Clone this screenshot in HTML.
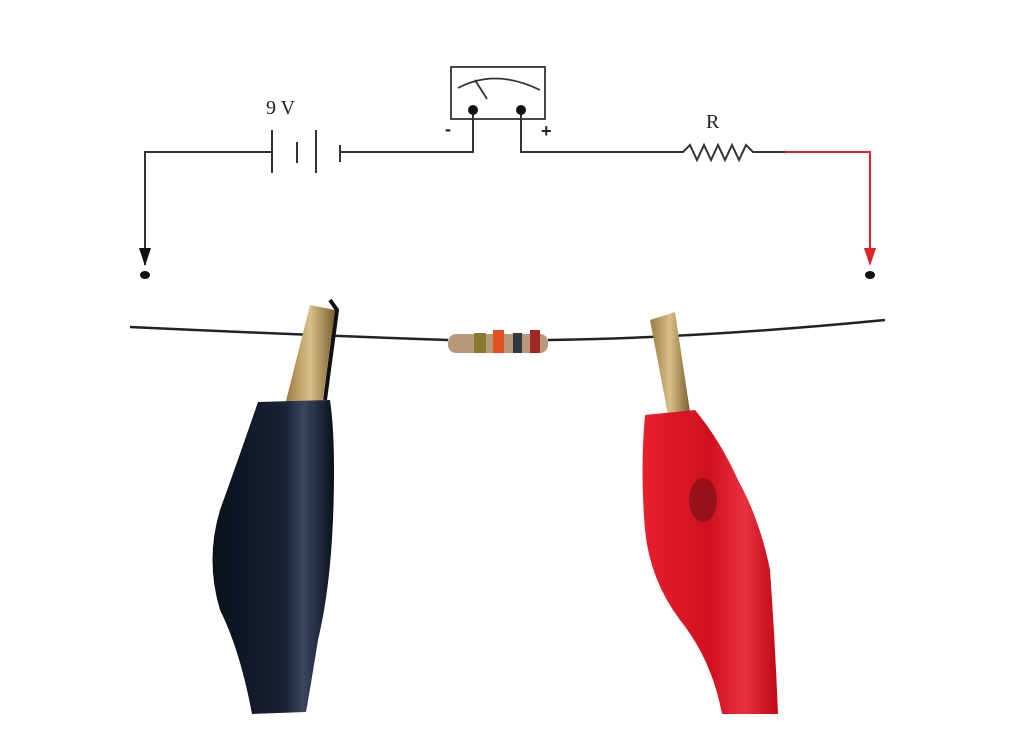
<!DOCTYPE html>
<html><head><meta charset="utf-8"><style>
html,body{margin:0;padding:0;background:#fff;width:1024px;height:748px;overflow:hidden}
</style></head><body>
<svg width="1024" height="748" viewBox="0 0 1024 748" xmlns="http://www.w3.org/2000/svg">
<defs>
<linearGradient id="gold" x1="0" x2="1"><stop offset="0" stop-color="#9a7a40"/><stop offset="0.5" stop-color="#d8c08a"/><stop offset="1" stop-color="#7a6030"/></linearGradient>
<linearGradient id="blk" x1="0" x2="1"><stop offset="0" stop-color="#0a0f1c"/><stop offset="0.6" stop-color="#1a2235"/><stop offset="0.75" stop-color="#3a4560"/><stop offset="1" stop-color="#0a0f1a"/></linearGradient>
<linearGradient id="red" x1="0" x2="1"><stop offset="0" stop-color="#e8202c"/><stop offset="0.5" stop-color="#d01020"/><stop offset="0.75" stop-color="#e83040"/><stop offset="1" stop-color="#c00818"/></linearGradient>
</defs>
<g fill="none" stroke="#333" stroke-width="2">
<polyline points="145,265 145,152 272,152"/>
<line x1="272" y1="130" x2="272" y2="173"/>
<line x1="297" y1="142" x2="297" y2="163"/>
<line x1="316" y1="130" x2="316" y2="173"/>
<line x1="340" y1="145" x2="340" y2="162"/>
<polyline points="340,152 473,152 473,110"/>
<polyline points="521,110 521,152 683,152 690,145 697,160 704,145 711,160 718,145 725,160 732,145 739,160 746,145 753,152 785,152"/>
<rect x="451" y="67" width="94" height="52" stroke-width="1.8"/>
<path d="M458,88 Q495,68 540,90" stroke-width="1.8"/>
<line x1="475" y1="80" x2="487" y2="99" stroke-width="1.8"/>
</g>
<polyline points="785,152 870,152 870,258" fill="none" stroke="#e0202a" stroke-width="2"/>
<circle cx="473" cy="110" r="5" fill="#111"/>
<circle cx="521" cy="110" r="5" fill="#111"/>
<polygon points="139,248 151,248 145,266" fill="#111"/>
<polygon points="864,248 876,248 870,266" fill="#e0202a"/>
<ellipse cx="145" cy="275" rx="5" ry="4" fill="#111"/>
<ellipse cx="870" cy="275" rx="5" ry="4" fill="#111"/>
<text x="266" y="114" font-family="Liberation Serif, serif" font-size="20" fill="#222">9 V</text>
<text x="706" y="128" font-family="Liberation Serif, serif" font-size="20" fill="#222">R</text>
<text x="445" y="135" font-family="Liberation Sans, sans-serif" font-size="18" font-weight="bold" fill="#222">-</text>
<text x="541" y="137" font-family="Liberation Sans, sans-serif" font-size="18" font-weight="bold" fill="#222">+</text>
<!-- wire -->
<path d="M130,327 Q300,335 448,340 M548,340 Q700,338 885,320" fill="none" stroke="#222" stroke-width="2.5"/>
<!-- resistor -->
<rect x="448" y="334" width="100" height="19" rx="8" fill="#b89878"/>
<rect x="474" y="333" width="12" height="20" fill="#8a7a30"/>
<rect x="493" y="330" width="11" height="23" fill="#e05020"/>
<rect x="513" y="333" width="9" height="20" fill="#303840"/>
<rect x="530" y="330" width="10" height="23" fill="#a02828"/>
<!-- black clip -->
<polygon points="285,405 310,305 335,310 322,405" fill="url(#gold)"/>
<path d="M330,300 L337,310 L325,400" stroke="#111" stroke-width="4" fill="none"/>
<path d="M258,402 L330,400 Q336,440 333,520 Q330,590 318,640 Q310,690 306,712 L252,714 Q240,650 220,610 Q205,560 220,510 Q238,460 258,402 Z" fill="url(#blk)"/>
<!-- red clip -->
<polygon points="650,320 675,312 690,412 668,415" fill="url(#gold)"/>
<path d="M645,415 L695,410 Q720,440 738,480 Q760,520 770,570 Q775,640 778,714 L722,714 Q712,660 680,620 Q650,580 645,530 Q640,470 645,415 Z" fill="url(#red)"/>
<ellipse cx="703" cy="500" rx="14" ry="22" fill="#701018" opacity="0.6"/>
</svg>
</body></html>
